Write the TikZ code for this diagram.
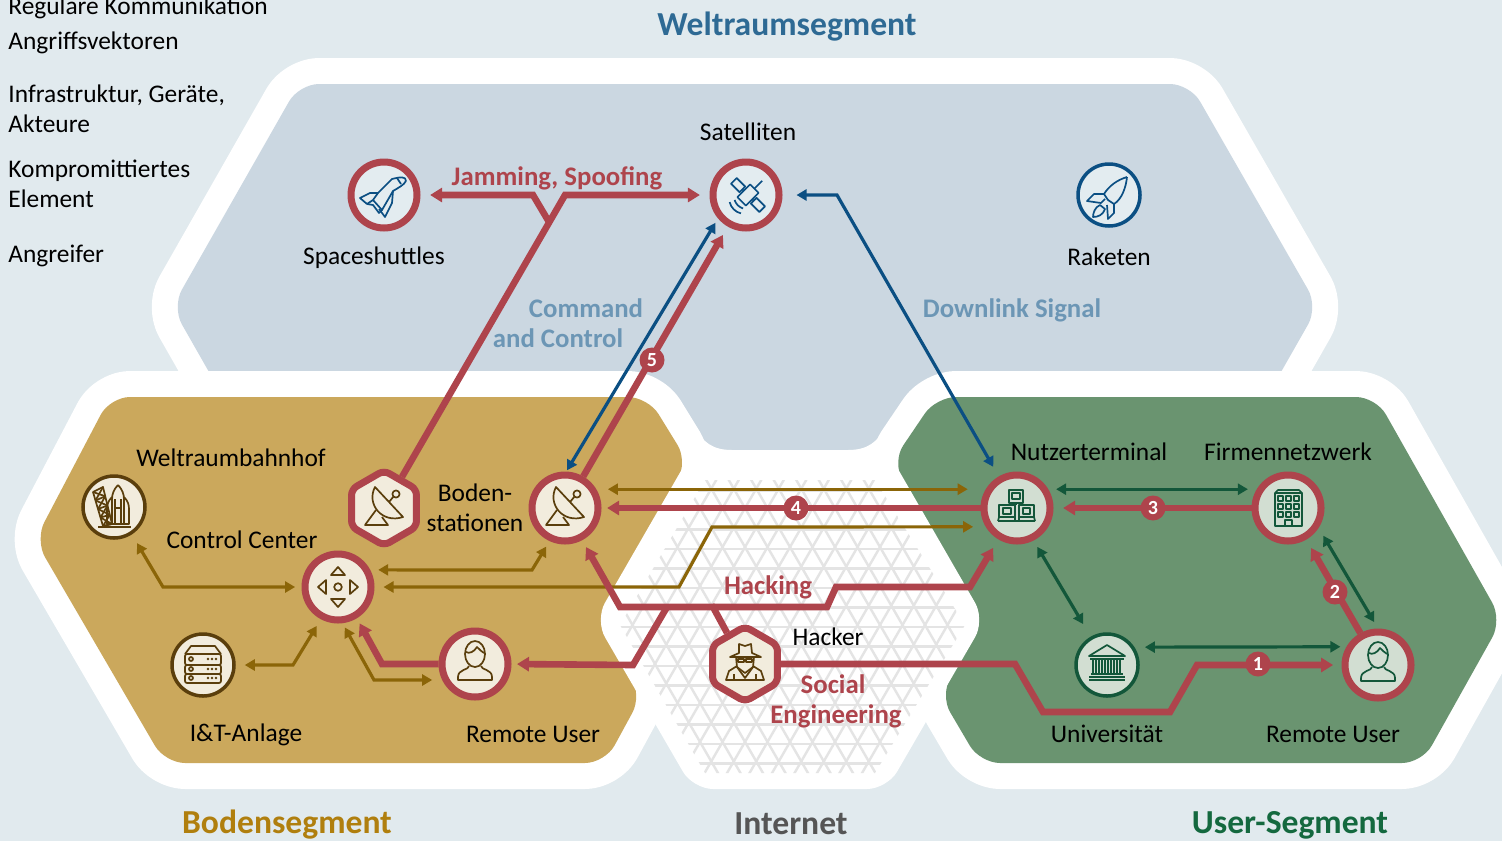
\documentclass[tikz,border=0pt]{standalone}
\usepackage{fontspec}
\setmainfont{Carlito}
\usetikzlibrary{arrows.meta,shapes.geometric}

\definecolor{bgblue}{HTML}{E1EAEE}
\definecolor{spacefill}{HTML}{CBD7E1}
\definecolor{groundfill}{HTML}{CBA85C}
\definecolor{userfill}{HTML}{6A9470}
\definecolor{attackred}{HTML}{AE444C}
\definecolor{groundink}{HTML}{8B6508}
\definecolor{groundring}{HTML}{5A3E0C}
\definecolor{spaceink}{HTML}{0B4F83}
\definecolor{userink}{HTML}{13573A}
\definecolor{spacedisc}{HTML}{E3ECF0}
\definecolor{grounddisc}{HTML}{F2ECDD}
\definecolor{userdisc}{HTML}{D2DED2}
\definecolor{meshgray}{HTML}{E4E4E4}
\definecolor{signalblue}{HTML}{6C96B5}
\definecolor{spacehead}{HTML}{2E6A94}
\definecolor{groundhead}{HTML}{B07F0E}
\definecolor{userhead}{HTML}{14693F}
\definecolor{nethead}{HTML}{555555}

\tikzset{
  panel/.style={preaction={draw=white,line width=26pt,line join=round},fill=#1,rounded corners=10pt},
  hitdisc/.style={circle,draw=attackred,line width=3.5pt,fill=#1,minimum size=33pt,inner sep=0pt},
  hithex/.style={regular polygon,regular polygon sides=6,shape border rotate=30,rounded corners=3pt,draw=attackred,line width=3.5pt,fill=#1,minimum size=37.5pt,inner sep=0pt},
  okdisc/.style 2 args={circle,draw=#1,line width=1.75pt,fill=#2,minimum size=31pt,inner sep=0pt},
  attack/.style={draw=attackred,line width=3.3pt,>={Triangle[length=6pt,width=7pt]}},
  flow/.style={draw=#1,line width=1.6pt,>={Triangle[length=5pt,width=5.5pt]}},
  lbl/.style={font=\fontsize{12.7}{14.75}\selectfont,inner sep=0pt},
  legend/.style={lbl,anchor=base west,align=left},
  veclbl/.style={font=\fontsize{13.4}{15}\selectfont\bfseries,text=#1,inner sep=0pt},
  seghead/.style={font=\fontsize{16.8}{18}\selectfont\bfseries,text=#1,inner sep=0pt},
  badge/.style={circle,fill=attackred,text=white,font=\fontsize{10}{10}\selectfont\bfseries,minimum size=12.5pt,inner sep=0pt},
  icon/.style={line width=.85pt,line join=round},
  pics/shuttleicon/.style={code={
    \draw[icon,#1] (22,-14) .. controls (22,-19) and (16,-18) .. (8,-16) -- (-6,-2) -- (-11,5) -- (-2,15) -- (9,-4) .. controls (14,-7) and (20,-10) .. (22,-14);
    \draw[icon,#1] (-6,-2) -- (-14,-2) -- (-24,3) -- (-17,9) -- (-11,5);
    \draw[icon,#1] (9,-4) -- (8,8) -- (1,22) -- (-5,14);
    \draw[icon,#1] (-17,9) -- (-11,10) -- (-5,18) -- (-2,15);
    \draw[icon,#1] (13,-17) -- (17,-11);}},
  pics/saticon/.style={code={
    \begin{scope}[shift={(2,0)},rotate=-45]
      \draw[icon,#1] (-20,-4) rectangle (-8,4);
      \draw[icon,#1] (8,-4) rectangle (20,4);
      \draw[icon,#1] (-8,0) -- (-6,0) (6,0) -- (8,0);
      \draw[icon,#1] (-6,-9) rectangle (6,9);
      \draw[icon,#1] (0,-9) -- (0,-20);
      \draw[icon,#1] (-6,13) .. controls (-2,15) and (2,15) .. (6,13);
      \draw[icon,#1] (-8,18) .. controls (-3,21) and (3,21) .. (8,18);
    \end{scope}}},
  pics/rocketicon/.style={code={
    \draw[icon,#1] (18,-18) .. controls (8,-15) and (0,-9) .. (-5,-1) -- (-1,5) -- (5,9) .. controls (13,4) and (17,-8) .. (18,-18);
    \draw[icon,#1] (-5,-1) -- (-15,-1) -- (-22,6) -- (-8,8) -- (-4,4);
    \draw[icon,#1] (5,9) -- (5,18) -- (-1,24) -- (-2,10);
    \draw[icon,#1] (-9,10) .. controls (-14,12) and (-16,18) .. (-16,22) .. controls (-11,22) and (-6,20) .. (-4,14) -- cycle;}},
  pics/dishicon/.style={code={
    \draw[icon,#1] (-9,-21) .. controls (-18,-4) and (-2,16) .. (19,9) -- cycle;
    \draw[icon,#1] (5,-6) -- (10,-12);
    \draw[icon,#1] (12,-14) circle[radius=1.8pt];
    \draw[icon,#1] (-8,2) -- (-19,17) -- (4,17) -- (-2,9);}},
  pics/porticon/.style={code={
    \draw[icon,#1] (-21,-15) -- (-11,-20) -- (-2,17) -- (-11,19) -- cycle;
    \foreach \ta/\tb in {0/.25,.25/.5,.5/.75,.75/1}{
      \draw[icon,#1] ({-21+10*\ta},{-15+34*\ta}) -- ({-11+9*\tb},{-20+37*\tb});
      \draw[icon,#1] ({-11+9*\ta},{-20+37*\ta}) -- ({-21+10*\tb},{-15+34*\tb});
      \draw[icon,#1] ({-21+10*\tb},{-15+34*\tb}) -- ({-11+9*\tb},{-20+37*\tb});}
    \draw[icon,#1] (4,-22) .. controls (8,-18) and (10,-13) .. (10,-8) -- (10,17) -- (-2,17) -- (-2,-8) .. controls (-2,-13) and (0,-18) .. (4,-22);
    \draw[icon,#1] (1,-8) -- (1,17) (7,-8) -- (7,17) (1,1) -- (7,1);
    \draw[icon,#1] (-2,-10) .. controls (-6,-6) and (-7,-2) .. (-7,2) -- (-7,17) -- (-2,17);
    \draw[icon,#1] (10,-10) .. controls (14,-6) and (15,-2) .. (15,2) -- (15,17) -- (10,17);
    \draw[icon,#1] (-16,20) -- (17,20);}},
  pics/ctrlicon/.style={code={
    \foreach \ang in {0,90,180,270}{
      \begin{scope}[rotate=\ang]
        \draw[icon,#1] (-7,-12) -- (7,-12) -- (0,-20) -- cycle;
      \end{scope}}
    \draw[icon,#1] (0,0) circle[radius=1.9pt];}},
  pics/servericon/.style={code={
    \draw[icon,#1] (-18,-11) -- (-12,-19) -- (12,-19) -- (18,-11);
    \draw[icon,#1,rounded corners=1pt] (-18,-11) rectangle (18,0);
    \draw[icon,#1,rounded corners=1pt] (-18,0) rectangle (18,9);
    \draw[icon,#1,rounded corners=1pt] (-18,9) rectangle (18,18);
    \foreach \yy in {-6,4,13}{
      \draw[icon,#1] (-12,\yy) circle[radius=1pt];
      \fill[#1] (5,\yy) circle[radius=.7pt] (9,\yy) circle[radius=.7pt] (13,\yy) circle[radius=.7pt];}}},
  pics/usericon/.style={code={
    \draw[icon,#1] (0,-10) ellipse [x radius=5pt,y radius=6.5pt];
    \draw[icon,#1] (-9,-12) .. controls (-6,-10) and (-1,-12) .. (2,-17) .. controls (4,-14) and (7,-13) .. (9,-11);
    \draw[icon,#1] (-6,2) .. controls (-6,6) and (-17,5) .. (-17,13) -- (-17,16) -- (17,16) -- (17,13) .. controls (17,5) and (6,6) .. (6,2);}},
  pics/hackericon/.style={code={
    \draw[icon,#1] (-15,-7) -- (-6,-11) -- (-6,-20) -- (0,-18) -- (6,-20) -- (7,-11) -- (16,-7) -- cycle;
    \draw[icon,#1] (-9,-7) -- (-8,3) -- (0,9) -- (8,3) -- (9,-7);
    \draw[icon,#1] (-7,-5) rectangle (-1,-2) (1,-5) rectangle (7,-2);
    \draw[icon,#1] (-8,2) -- (-16,7) -- (-19,16) -- (-11,16) -- (-11,10);
    \draw[icon,#1] (8,2) -- (16,7) -- (19,16) -- (11,16) -- (11,10);
    \draw[icon,#1] (-11,16) -- (11,16) (-8,3) -- (0,14) -- (8,3);}},
  pics/termicon/.style={code={
    \draw[icon,#1] (-8,-18) rectangle (6,-5);
    \draw[icon,#1] (-5,-15) rectangle (3,-9);
    \draw[icon,#1] (-18,-3) rectangle (-2,9);
    \draw[icon,#1] (-14,0) rectangle (-6,6);
    \draw[icon,#1] (2,-3) rectangle (17,9);
    \draw[icon,#1] (6,0) rectangle (13,6);
    \draw[icon,#1] (-19,13) -- (18,13) (-18,9) -- (-19,13) (17,9) -- (18,13) (-2,9) -- (-2,13) (2,9) -- (2,13);
    \draw[icon,#1] (-1,-5) -- (-1,-3);}},
  pics/officeicon/.style={code={
    \draw[icon,#1] (-13,18) -- (-13,-15) -- (-10,-18) -- (11,-18) -- (14,-15) -- (14,18) -- cycle;
    \draw[icon,#1] (-13,-15) -- (14,-15);
    \foreach \xx in {-10,-2,6}{\foreach \yy in {-12,-4,4}{
      \draw[icon,#1] (\xx,\yy) rectangle ({\xx+5},{\yy+5});}}
    \draw[icon,#1] (-3,18) -- (-3,12) -- (4,12) -- (4,18);}},
  pics/uniicon/.style={code={
    \draw[icon,#1] (0,-20) -- (18,-9) -- (-18,-9) -- cycle;
    \draw[icon,#1] (-17,-6) -- (17,-6);
    \foreach \xx in {-14,-8,-2,4,10}{\draw[icon,#1] (\xx,-6) -- (\xx,9) ({\xx+3},-6) -- ({\xx+3},9);}
    \draw[icon,#1] (-16,9) -- (16,9) (-18,12) -- (18,12) (-18,15) -- (18,15);}},
}

\begin{document}
\begin{tikzpicture}[x=.5pt,y=-.5pt]
  \useasboundingbox (0,0) rectangle (1502,841);
  \fill[bgblue] (0,0) rectangle (1502,841);

  \path[panel=spacefill] (299,84) -- (1190,84) -- (1318,307) -- (1191,530) -- (299,530) -- (172,307) -- cycle;
  \path[panel=groundfill] (110,397) -- (648,397) -- (688,462) -- (596,620) -- (642,695) -- (605,763) -- (165,763) -- (35,540) -- cycle;
  \path[panel=userfill] (936,397) -- (1376,397) -- (1502,620) -- (1422,763) -- (980,763) -- (940,695) -- (985,620) -- (892,462) -- cycle;
  \fill[white,rounded corners=10pt] (595,620) -- (693,450) -- (887,450) -- (985,620) -- (887,789) -- (693,789) -- cycle;
  \fill[white] (693,426) .. controls (703,442) and (712,450) .. (732,450) -- (700,456) -- cycle;
  \fill[white] (887,426) .. controls (877,442) and (868,450) .. (848,450) -- (880,456) -- cycle;
  \begin{scope}
    \clip (620,625) -- (705,480) -- (875,480) -- (965,625) -- (875,773) -- (705,773) -- cycle;
    \foreach \i in {-14,...,14}{
      \draw[meshgray,line width=1.2pt] ({790+22.5*\i-89.5},780) -- ({790+22.5*\i+89.5},470);
      \draw[meshgray,line width=1.2pt] ({790+22.5*\i+89.5},780) -- ({790+22.5*\i-89.5},470);}
    \foreach \j in {-8,...,8}{
      \draw[meshgray,line width=1.2pt] (600,{627+19.5*\j}) -- (980,{627+19.5*\j});}
  \end{scope}

  \node[hitdisc=spacedisc] (shuttle) at (384,195) {};
  \node[hitdisc=spacedisc] (sat) at (746,195) {};
  \node[okdisc={spaceink}{spacedisc}] (rocket) at (1109,195) {};
  \node[okdisc={groundring}{grounddisc}] (spaceport) at (114,507) {};
  \node[hitdisc=grounddisc] (ctrl) at (338,587) {};
  \node[okdisc={groundring}{grounddisc}] (server) at (203,665) {};
  \node[hitdisc=grounddisc] (remoteg) at (475,664) {};
  \node[hithex=grounddisc] (dishhex) at (384,508) {};
  \node[hitdisc=grounddisc] (dish) at (565,508) {};
  \node[hithex=grounddisc] (hacker) at (745,664) {};
  \node[hitdisc=userdisc] (term) at (1017,508) {};
  \node[hitdisc=userdisc] (office) at (1288,508) {};
  \node[okdisc={userink}{userdisc}] (uni) at (1107,665) {};
  \node[hitdisc=userdisc] (remoteu) at (1378,665) {};

  \pic at (shuttle) {shuttleicon=spaceink};
  \pic at (sat) {saticon=spaceink};
  \pic at (rocket) {rocketicon=spaceink};
  \pic at (spaceport) {porticon=groundring};
  \pic at (ctrl) {ctrlicon=groundring};
  \pic at (server) {servericon=groundring};
  \pic at (remoteg) {usericon=groundring};
  \pic at (dishhex) {dishicon=groundring};
  \pic at (dish) {dishicon=groundring};
  \pic at (hacker) {hackericon=groundring};
  \pic at (term) {termicon=userink};
  \pic at (office) {officeicon=userink};
  \pic at (uni) {uniicon=userink};
  \pic at (remoteu) {usericon=userink};

  \draw[flow=groundink,<->,shorten <=5pt,shorten >=3.2pt] (spaceport.-57) -- (163,587) -- (ctrl.180);
  \draw[flow=groundink,<->,shorten <=4pt,shorten >=3.2pt] (ctrl.28) -- (532,570) -- (dish.-115);
  \draw[flow=groundink,<->,shorten <=4.5pt,shorten >=6.3pt] (ctrl.0) -- (679,587) -- (712,527) -- (term.211);
  \draw[flow=groundink,<->,shorten <=5.8pt,shorten >=9pt] (dish.31) -- (term.149);
  \draw[flow=groundink,<->,shorten <=4.5pt,shorten >=3.9pt] (server.0) -- (293,665) -- (ctrl.-118);
  \draw[flow=groundink,<->,shorten <=2.4pt,shorten >=5pt] (ctrl.-83) -- (374,680) -- (remoteg.206);

  \draw[flow=userink,<->,shorten <=3.9pt,shorten >=4.4pt] (term.31) -- (office.149);
  \draw[flow=userink,<->,shorten <=3.7pt,shorten >=7.3pt] (term.-63) -- (uni.120);
  \draw[flow=userink,<->,shorten <=5.2pt,shorten >=3pt] (uni.33) -- (remoteu.150);
  \draw[flow=userink,<->,shorten <=4.5pt,shorten >=3.7pt] (office.-33) -- (remoteu.90);

  \draw[flow=spaceink,<->,shorten <=.7pt,shorten >=2.5pt] (dish.88) -- (sat.220);
  \draw[flow=spaceink,<->,shorten <=7pt,shorten >=5.5pt] (sat.0) -- (837,195) -- (term.120);

  \coordinate (jamsplit) at (549,222);
  \coordinate (hackjoin) at (713,607);
  \coordinate (remotejoin) at (667,607);
  \draw[attack,->,shorten >=4.8pt] (dishhex.60) -- (565,195) -- (sat.180);
  \draw[attack,->,shorten >=4.8pt] (jamsplit) -- (533,195) -- (shuttle.0);
  \draw[attack,->,shorten >=4.8pt] (dish.60) -- (sat.240);
  \draw[attack,->,shorten >=2.9pt] (remoteg.180) -- (382,664) -- (ctrl.-59);
  \draw[attack,->,shorten >=3.9pt] (hacker.120) -- (hackjoin) -- (620,607) -- (dish.-62);
  \draw[attack,->,shorten >=5pt] (hackjoin) -- (827,607) -- (836,587) -- (970,587) -- (term.239);
  \draw[attack,->,shorten >=2.75pt] (remotejoin) -- (633,665) -- (remoteg.0);
  \draw[attack,->,shorten >=4.2pt] (hacker.0) -- (1015,664) -- (1043,712) -- (1170,712) -- (1197,665) -- (remoteu.180);
  \draw[attack,->,shorten >=4.8pt] (remoteu.119) -- (office.-60);
  \draw[attack,->,shorten >=4.8pt] (office.180) -- (term.0);
  \draw[attack,->,shorten >=2.8pt] (term.180) -- (dish.0);

  \node[badge] (badge1) at (1258,664) {1};
  \node[badge] (badge2) at (1335,592) {2};
  \node[badge] (badge3) at (1153,508) {3};
  \node[badge] (badge4) at (796,508) {4};
  \node[badge] (badge5) at (652,360) {5};

  \node[legend] (legcomm) at (8,14) {Reguläre Kommunikation};
  \node[legend] (legvec) at (8,49) {Angriffsvektoren};
  \node[legend] (leginfra) at (8,132) {Infrastruktur, Geräte,\\Akteure};
  \node[legend] (leghit) at (8,207) {Kompromittiertes\\Element};
  \node[legend] (legatt) at (8,262) {Angreifer};

  \node[seghead=spacehead] (headspace) at (787,27) {Weltraumsegment};
  \node[seghead=groundhead] (headground) at (287,825) {Bodensegment};
  \node[seghead=nethead] (headnet) at (791,824) {Internet};
  \node[seghead=userhead] (headuser) at (1290,825) {User-Segment};

  \node[lbl] (lblsat) at (748,132) {Satelliten};
  \node[lbl] (lblshuttle) at (374,258) {Spaceshuttles};
  \node[lbl] (lblrocket) at (1109,257) {Raketen};
  \node[lbl] (lblport) at (231,458) {Weltraumbahnhof};
  \node[lbl] (lblctrl) at (242,540) {Control Center};
  \node[lbl,align=center] (lbldish) at (475,508) {Boden-\\stationen};
  \node[lbl] (lblserver) at (246,735) {I\&T-Anlage};
  \node[lbl] (lblremoteg) at (533,734) {Remote User};
  \node[lbl] (lblhacker) at (828,637) {Hacker};
  \node[lbl] (lblterm) at (1089,452) {Nutzerterminal};
  \node[lbl] (lbloffice) at (1288,452) {Firmennetzwerk};
  \node[lbl] (lbluni) at (1107,734) {Universität};
  \node[lbl] (lblremoteu) at (1333,734) {Remote User};

  \node[veclbl=attackred] (vecjam) at (557,178) {Jamming, Spoofing};
  \node[veclbl=signalblue] (veccmd) at (586,308) {Command};
  \node[veclbl=signalblue] (vecctl) at (558,338) {and Control};
  \node[veclbl=signalblue] (vecdown) at (1012,310) {Downlink Signal};
  \node[veclbl=attackred] (vechack) at (768,587) {Hacking};
  \node[veclbl=attackred] (vecsocial) at (833,684) {Social};
  \node[veclbl=attackred] (veceng) at (836,716) {Engineering};
\end{tikzpicture}
\end{document}
